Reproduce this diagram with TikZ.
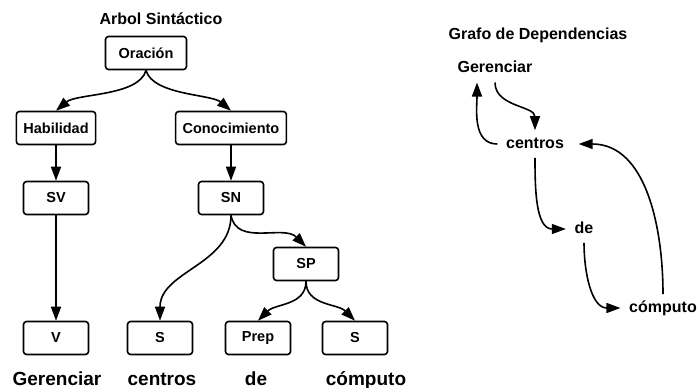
\documentclass[tikz,border=0pt]{standalone}
\usepackage{fontspec}
\setmainfont{Liberation Sans}
\usetikzlibrary{arrows.meta,positioning}

\begin{document}
\begin{tikzpicture}[x=1pt,y=1pt,line width=1.6pt,>={Triangle[length=14pt,width=10pt]},
    box/.style={draw,rounded corners=3pt,minimum width=65pt,minimum height=33pt,
        inner xsep=7pt,font=\fontsize{14.5}{16}\selectfont\bfseries},
    word/.style={anchor=base,font=\fontsize{19}{22}\selectfont\bfseries},
    dep/.style={anchor=base,inner xsep=8pt,inner ysep=6pt,text height=11pt,text depth=3pt,
        font=\fontsize{16}{18}\selectfont\bfseries},
    titulo/.style={font=\fontsize{16}{18}\selectfont\bfseries}]
    \useasboundingbox (0,0) rectangle (697,-388);

    % arbol sintactico
    \node[titulo] (t_arbol) at (161,-19) {Arbol Sintáctico};
    \node[box,minimum width=81pt] (orac) at (146,-53) {Oración};
    \node[box] (hab)  at (56,-128)  {Habilidad};
    \node[box] (con)  at (231,-128) {Conocimiento};
    \node[box] (sv)   at (56,-198)  {SV};
    \node[box] (sn)   at (231,-198) {SN};
    \node[box] (sp)   at (306,-264) {SP};
    \node[box] (v)    at (56,-338)  {V};
    \node[box] (s_1)  at (160,-338) {S};
    \node[box] (prep) at (258,-338) {Prep};
    \node[box] (s_2)  at (355,-338) {S};

    \node[word] (w_ger) at (57,-385)  {Gerenciar};
    \node[word] (w_cen) at (162,-385) {centros};
    \node[word] (w_de)  at (256,-385) {de};
    \node[word] (w_com) at (366,-385) {cómputo};

    \path[->]
        (orac.south)
            edge [out=-105,in=40,looseness=0.7] (hab.north)
            edge [out=-75,in=140,looseness=0.7] (con.north)
        (hab) edge (sv)
        (con) edge (sn)
        (sv)  edge (v)
        (sn.south)
            edge [out=-90,in=90] (s_1.north)
            edge [out=-80,in=135] (sp.north)
        (sp.south)
            edge [out=-90,in=45] (prep.north)
            edge [out=-90,in=135] (s_2.north);

    % grafo de dependencias
    \node[titulo] (t_grafo) at (538,-35) {Grafo de Dependencias};
    \node[dep] (d_ger) at (495,-72.7) {Gerenciar};
    \node[dep] (d_cen) at (535,-148)  {centros};
    \node[dep] (d_de)  at (584,-233)  {de};
    \node[dep] (d_com) at (663,-312)  {cómputo};

    \path[->]
        (d_ger.south) edge [out=-90,in=90] (d_cen.north)
        (d_cen.west)  edge [out=180,in=-90] ([xshift=-18pt]d_ger.south)
        (d_cen.south) edge [out=-90,in=180] (d_de.west)
        (d_de.south)  edge [out=-90,in=180] (d_com.west)
        (d_com.north) edge [out=90,in=0] ([xshift=6pt]d_cen.east);
\end{tikzpicture}
\end{document}
